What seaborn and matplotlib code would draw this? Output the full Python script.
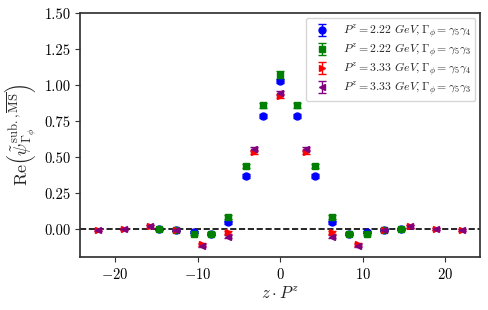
import matplotlib
matplotlib.use("Agg")
import matplotlib.pyplot as plt
import seaborn as sns

# x = z * P^z  (z = -7 .. 7)
x_222 = [-14.66, -12.57, -10.47, -8.38, -6.28, -4.19, -2.09, 0.0,
         2.09, 4.19, 6.28, 8.38, 10.47, 12.57, 14.66]
x_333 = [-21.99, -18.85, -15.71, -12.57, -9.42, -6.28, -3.14, 0.0,
         3.14, 6.28, 9.42, 12.57, 15.71, 18.85, 21.99]

# P^z = 2.22 GeV, gamma5 gamma4
y_222_g4 = [0.000, -0.005, -0.016, -0.030, 0.047, 0.370, 0.790, 1.030,
            0.790, 0.370, 0.047, -0.030, -0.016, -0.005, 0.000]
e_222_g4 = [0.006, 0.006, 0.007, 0.008, 0.010, 0.012, 0.014, 0.016,
            0.014, 0.012, 0.010, 0.008, 0.007, 0.006, 0.006]
# P^z = 2.22 GeV, gamma5 gamma3
y_222_g3 = [0.000, -0.003, -0.035, -0.035, 0.084, 0.436, 0.860, 1.070,
            0.860, 0.436, 0.084, -0.035, -0.035, -0.003, 0.000]
e_222_g3 = [0.006, 0.006, 0.007, 0.008, 0.012, 0.014, 0.016, 0.028,
            0.016, 0.014, 0.012, 0.008, 0.007, 0.006, 0.006]
# P^z = 3.33 GeV, gamma5 gamma4
y_333_g4 = [-0.003, 0.000, 0.019, -0.003, -0.105, -0.021, 0.535, 0.926,
            0.535, -0.021, -0.105, -0.003, 0.019, 0.000, -0.003]
e_333_g4 = [0.006, 0.006, 0.007, 0.008, 0.010, 0.012, 0.014, 0.016,
            0.014, 0.012, 0.010, 0.008, 0.007, 0.006, 0.006]
# P^z = 3.33 GeV, gamma5 gamma3
y_333_g3 = [-0.003, 0.000, 0.019, -0.003, -0.115, -0.051, 0.560, 0.947,
            0.560, -0.051, -0.115, -0.003, 0.019, 0.000, -0.003]
e_333_g3 = [0.006, 0.006, 0.007, 0.008, 0.010, 0.012, 0.014, 0.016,
            0.014, 0.012, 0.010, 0.008, 0.007, 0.006, 0.006]

labels = [r"$P^z = 2.22\ GeV, \Gamma_\phi = \gamma_5\gamma_4$",
          r"$P^z = 2.22\ GeV, \Gamma_\phi = \gamma_5\gamma_3$",
          r"$P^z = 3.33\ GeV, \Gamma_\phi = \gamma_5\gamma_4$",
          r"$P^z = 3.33\ GeV, \Gamma_\phi = \gamma_5\gamma_3$"]
colors = ["blue", "green", "red", "purple"]
markers = ["o", "s", ">", "<"]

sns.set_theme(style="ticks")
plt.rcParams["font.family"] = "serif"
plt.rcParams["font.serif"] = ["cmr10", "DejaVu Serif"]
plt.rcParams["mathtext.fontset"] = "cm"
plt.rcParams["axes.formatter.use_mathtext"] = True
plt.rcParams["axes.edgecolor"] = "#333333"
plt.rcParams["xtick.color"] = "#333333"
plt.rcParams["ytick.color"] = "#333333"
plt.rcParams["xtick.labelcolor"] = "black"
plt.rcParams["ytick.labelcolor"] = "black"

fig = plt.figure(figsize=(4.89, 3.10), dpi=100)
ax = fig.add_axes([0.164, 0.17, 0.818, 0.787])

series = [(x_222, y_222_g4, e_222_g4), (x_222, y_222_g3, e_222_g3),
          (x_333, y_333_g4, e_333_g4), (x_333, y_333_g3, e_333_g3)]
for (xs, ys, es), lab, c, m in zip(series, labels, colors, markers):
    ax.errorbar(xs, ys, yerr=es, fmt=m, color=c, markersize=5,
                capsize=3, elinewidth=1, label=lab)

ax.axhline(0, color="black", linestyle="--", linewidth=1.2, zorder=0)

ax.set_xlim(-24.2, 24.2)
ax.set_ylim(-0.195, 1.5)
ax.set_xticks([-20, -10, 0, 10, 20])
ax.set_yticks([0.0, 0.25, 0.5, 0.75, 1.0, 1.25, 1.5])
ax.set_yticklabels(["0.00", "0.25", "0.50", "0.75", "1.00", "1.25", "1.50"])
ax.tick_params(labelsize=10.5, length=3.5, width=0.8)

ax.set_xlabel(r"$z \cdot P^z$", fontsize=12, labelpad=2)
ax.set_ylabel(r"$\mathrm{Re}\left(\tilde{\psi}^{\mathrm{sub.},\overline{\mathrm{MS}}}_{\Gamma_\phi}\right)$",
              fontsize=13, labelpad=4)

ax.legend(loc="upper right", fontsize=8.5, frameon=True, handletextpad=0.8,
          borderaxespad=0.4, labelspacing=0.12, borderpad=0.35)

fig.savefig("out.png", dpi=100)
